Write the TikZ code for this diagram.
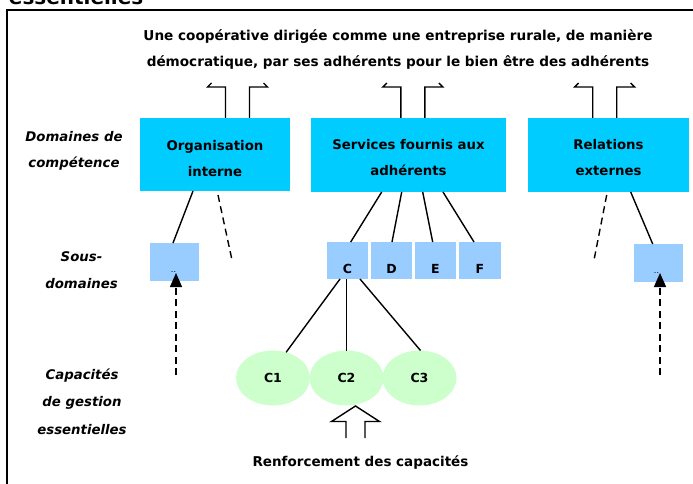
\documentclass[tikz,border=0pt]{standalone}
\usepackage{fontspec}
\setmainfont{DejaVu Sans}[
  ItalicFont={DejaVu Sans Oblique},
  BoldFont={DejaVu Sans Bold},
  BoldItalicFont={DejaVu Sans Bold Oblique}]
\usetikzlibrary{arrows.meta,shapes.geometric,calc}

\definecolor{domcyan}{HTML}{00CCFF}
\definecolor{subblue}{HTML}{99CCFF}
\definecolor{capgreen}{HTML}{CCFFCC}

\tikzset{
  pics/upstub/.style={code={
    \draw[blockline] (-26,-4) -- (-30,0) -- (-12,0) -- (-12,31);
    \draw[blockline] (26,-4) -- (30,0) -- (12,0) -- (12,31);
  }}
}

\begin{document}
\begin{tikzpicture}[x=1pt,y=-1pt,
  every node/.style={inner sep=0pt, outer sep=0pt},
  domainbox/.style={rectangle, fill=domcyan},
  domaintext/.style={align=center, font=\bfseries\fontsize{13.3}{26}\selectfont},
  subbox/.style={rectangle, fill=subblue, minimum height=37pt},
  subtext/.style={font=\bfseries\fontsize{12.5}{14}\selectfont},
  dots/.style={font=\fontsize{8}{10}\selectfont},
  capnode/.style={ellipse, fill=capgreen, minimum width=74pt, minimum height=55pt,
    font=\bfseries\fontsize{12.5}{14}\selectfont},
  rowlabel/.style={align=center, font=\bfseries\itshape\fontsize{13.3}{26.5}\selectfont},
  link/.style={draw, line width=1.4pt},
  hint/.style={draw, line width=1.4pt, dash pattern=on 7pt off 4.5pt},
  feed/.style={hint, -{Triangle[length=14pt,width=12pt]}},
  blockline/.style={draw, line width=1.4pt, line join=miter},
]
\useasboundingbox (0,0) rectangle (693,484);
\clip (0,0) rectangle (693,484);

% outer frame, running past the page edges
\draw[line width=1.5pt] (7,520) -- (7,10) -- (720,10);
\node[anchor=base west, font=\bfseries\fontsize{20}{24}\selectfont] (cut) at (9,4.5) {essentielles};

% goal statement
\node[align=center, font=\bfseries\fontsize{13.6}{26}\selectfont] (goal) at (398,49)
  {Une coopérative dirigée comme une entreprise rurale, de manière\\
   démocratique, par ses adhérents pour le bien être des adhérents};

% row headings
\node[rowlabel] (rowdom) at (74,151) {Domaines de\\compétence};
\node[rowlabel] (rowsub) at (81.5,270) {Sous-\\domaines};
\node[rowlabel, font=\bfseries\itshape\fontsize{13.3}{27.5}\selectfont] (rowcap) at (82,401.5)
  {Capacités\\de gestion\\essentielles};

% domains of competence
\node[domainbox, minimum width=150pt, minimum height=73pt,
  label={[domaintext, yshift=-4pt]center:Organisation\\interne}] (org) at (215,154.5) {};
\node[domainbox, minimum width=195pt, minimum height=74pt,
  label={[domaintext, yshift=-3pt]center:Services fournis aux\\adhérents}] (serv) at (408.5,155) {};
\node[domainbox, minimum width=161pt, minimum height=74pt,
  label={[domaintext, yshift=-3pt]center:Relations\\externes}] (rel) at (608.5,155) {};

% outgoing block arrows towards the goal
\pic at ([xshift=22.5pt, yshift=31pt]org.north) {upstub};
\pic at ([xshift=4.3pt, yshift=31pt]serv.north) {upstub};
\pic at ([xshift=-3.8pt, yshift=31pt]rel.north) {upstub};

% sub-domains
\node[subbox, minimum width=49pt, minimum height=38pt,
  label={[dots, yshift=-10pt, xshift=-1pt]center:..}] (sa) at (174.5,262) {};
\node[subbox, minimum width=41pt, label={[subtext, yshift=-8.5pt]center:C}] (sc) at (347.5,260.5) {};
\node[subbox, minimum width=41pt, label={[subtext, yshift=-8.5pt]center:D}] (sd) at (391.5,260.5) {};
\node[subbox, minimum width=41pt, label={[subtext, yshift=-8.5pt]center:E}] (se) at (435.5,260.5) {};
\node[subbox, minimum width=42pt, label={[subtext, yshift=-8.5pt]center:F}] (sf) at (480,260.5) {};
\node[subbox, minimum width=49pt, minimum height=38pt,
  label={[dots, yshift=-10pt, xshift=-2pt]center:..}] (sb) at (658.5,263) {};

% essential management capacities
\node[capnode] (c1) at (273,378) {\raisebox{-4pt}{C1}};
\node[capnode] (c3) at (419.5,378) {\raisebox{-4pt}{C3}};
\node[capnode] (c2) at (346.5,378) {\raisebox{-4pt}{C2}};

\node[font=\bfseries\fontsize{13.5}{15}\selectfont] (renf) at (360.5,463) {Renforcement des capacités};

% free ends of the open links
\coordinate (orgmore) at (232,260);
\coordinate (relmore) at (594,260);
\coordinate (orgsrc) at (176,375);
\coordinate (relsrc) at (660,375);

% links between levels
\path[link] ([xshift=53pt]org.south west) -- ([xshift=23pt]sa.north west);
\path[hint] ([xshift=78pt,yshift=-4pt]org.south west) -- (orgmore);
\path[link] ([xshift=70.7pt]serv.south west) -- ([xshift=23.7pt]sc.north west);
\path[link] ([xshift=90.7pt]serv.south west) -- ([xshift=21pt]sd.north west);
\path[link] ([xshift=111.7pt]serv.south west) -- ([xshift=17.7pt]se.north west);
\path[link] ([xshift=132pt]serv.south west) -- ([xshift=15pt]sf.north west);
\path[link] ([xshift=102.7pt]rel.south west) -- ([xshift=18.7pt]sb.north west);
\path[hint] ([xshift=78.7pt,yshift=-3pt]rel.south west) -- (relmore);

\path[feed] (orgsrc) -- ([shift={(1.5pt,8pt)}]sa.south);
\path[feed] (relsrc) -- ([shift={(1.5pt,9pt)}]sb.south);

\path[link] ([xshift=-7.5pt]sc.south) -- (c1.63);
\path[link] (sc.south -| c2.north) -- (c2.north);
\path[link] ([xshift=12.5pt]sc.south) -- ([xshift=1pt]c3.north);

% capacity-building block arrow
\draw[blockline] (346,438) -- (346,421.5) -- (331.5,421.5) -- (355.5,406)
  -- (379.5,421.5) -- (365,421.5) -- (365,438);
\end{tikzpicture}
\end{document}
